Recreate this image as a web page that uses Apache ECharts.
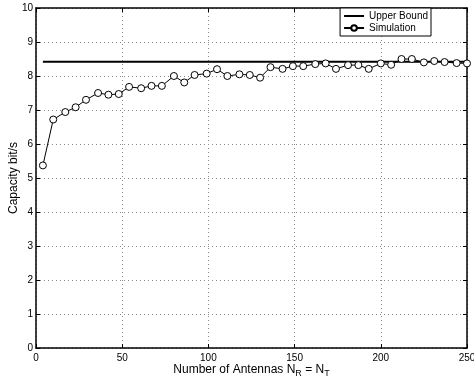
<!DOCTYPE html>
<html>
<head>
<meta charset="utf-8">
<script src="https://cdn.jsdelivr.net/npm/echarts@6/dist/echarts.min.js"></script>
<style>
  html, body { margin: 0; padding: 0; background: #fff; }
  #chart { width: 474px; height: 383px; }
</style>
</head>
<body>
<div id="chart"></div>
<script>
// number of antennas (N_R = N_T)
const antennas = [4, 10, 17, 23, 29, 36, 42, 48, 54, 61, 67, 73, 80, 86, 92, 99, 105, 111, 118, 124,
  130, 136, 143, 149, 155, 162, 168, 174, 181, 187, 193, 200, 206, 212, 218, 225, 231, 237, 244, 250]
// simulated capacity, bit/s
const simulation = [5.37, 6.72, 6.94, 7.08, 7.30, 7.50, 7.45, 7.47, 7.68, 7.64, 7.71, 7.71, 8.00, 7.81, 8.03, 8.07, 8.20, 8.00, 8.05, 8.03,
  7.95, 8.26, 8.21, 8.29, 8.29, 8.35, 8.37, 8.21, 8.32, 8.32, 8.21, 8.37, 8.33, 8.50, 8.50, 8.40, 8.44, 8.41, 8.38, 8.37]
const upperBound = 8.42
const boundRange = [4, 250]

const font = "'Liberation Sans', Arial, Helvetica, sans-serif"
const gridLine = { show: true, lineStyle: { color: '#8a8a8a', type: [1, 3], width: 1 } }
const frame = { show: true, onZero: false, lineStyle: { color: '#000', width: 1.5 } }
const tickIn = { show: true, inside: true, length: 4, lineStyle: { color: '#000' } }

const chart = echarts.init(document.getElementById('chart'), null, { renderer: 'canvas' })

chart.setOption({
  animation: false,
  textStyle: { fontFamily: font },
  // v6 would otherwise squeeze the grid to fit names/labels
  grid: { left: 36, right: 7, top: 8, bottom: 35, containLabel: false, outerBoundsMode: 'none' },
  legend: {
    orient: 'vertical',
    right: 43,
    top: 8,
    backgroundColor: '#fff',
    borderColor: '#000',
    borderWidth: 1,
    borderRadius: 0,
    padding: [3, 3, 3, 3],
    itemGap: 2,
    itemWidth: 20,
    itemHeight: 7,
    textStyle: { fontFamily: font, fontSize: 10, color: '#000' },
    // hide the marker on the bound's key, keep its line
    data: [{ name: 'Upper Bound', itemStyle: { opacity: 0 } }, { name: 'Simulation' }],
  },
  xAxis: [
    {
      type: 'value',
      min: 0,
      max: 250,
      interval: 50,
      position: 'bottom',
      axisLine: frame,
      axisTick: tickIn,
      splitLine: gridLine,
      axisLabel: { color: '#000', fontSize: 10, margin: 5, fontFamily: font },
      name: '{t|Number of Antennas N}{s|R}{t| = N}{s|T}',
      nameLocation: 'middle',
      nameGap: 13,
      nameMoveOverlap: false,
      nameTextStyle: {
        rich: {
          t: { fontSize: 12, color: '#000', fontFamily: font },
          s: { fontSize: 9, color: '#000', fontFamily: font, padding: [8, 0, 0, 0] },
        },
      },
    },
    {
      type: 'value',
      min: 0,
      max: 250,
      interval: 50,
      position: 'top',
      axisLine: frame,
      axisTick: tickIn,
      axisLabel: { show: false },
      splitLine: { show: false },
    },
  ],
  yAxis: [
    {
      type: 'value',
      min: 0,
      max: 10,
      interval: 1,
      position: 'left',
      axisLine: frame,
      axisTick: tickIn,
      splitLine: gridLine,
      axisLabel: { color: '#000', fontSize: 10, margin: 3, fontFamily: font },
      name: 'Capacity bit/s',
      nameLocation: 'middle',
      nameGap: 16,
      nameMoveOverlap: false,
      nameTextStyle: { fontSize: 12, color: '#000', fontFamily: font },
    },
    {
      type: 'value',
      min: 0,
      max: 10,
      interval: 1,
      position: 'right',
      axisLine: frame,
      axisTick: tickIn,
      axisLabel: { show: false },
      splitLine: { show: false },
    },
  ],
  series: [
    {
      name: 'Upper Bound',
      type: 'line',
      symbol: 'none',
      lineStyle: { color: '#000', width: 2 },
      itemStyle: { color: '#000' },
      data: boundRange.map(x => [x, upperBound]),
      z: 3,
    },
    {
      name: 'Simulation',
      type: 'line',
      symbol: 'circle',
      symbolSize: 7,
      lineStyle: { color: '#000', width: 1 },
      itemStyle: { color: '#fff', borderColor: '#000', borderWidth: 1 },
      data: antennas.map((x, i) => [x, simulation[i]]),
      z: 4,
    },
  ],
})
</script>
</body>
</html>
